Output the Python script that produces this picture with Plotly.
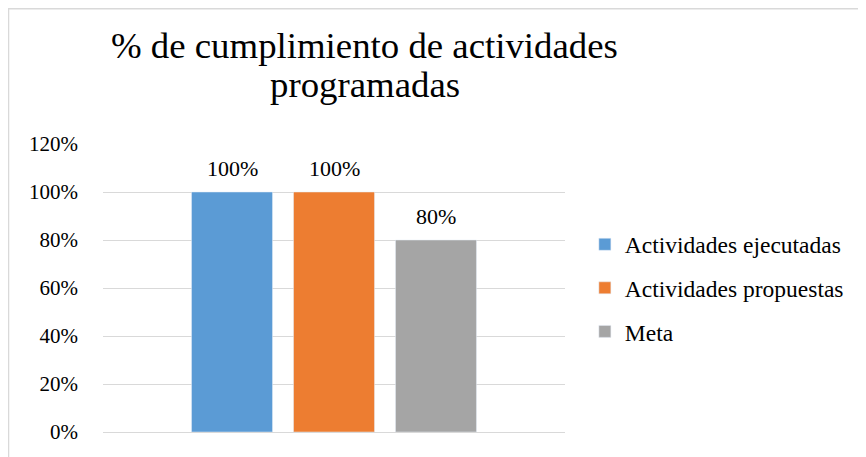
import plotly.graph_objects as go

# Data
series_names = ["Actividades ejecutadas", "Actividades propuestas", "Meta"]
series_values = [1.00, 1.00, 0.80]
series_colors = ["#5B9BD5", "#ED7D31", "#A5A5A5"]
title_lines = ["% de cumplimiento de actividades", "programadas"]
tick_vals = [0, 0.2, 0.4, 0.6, 0.8, 1.0, 1.2]

FONT = "Liberation Serif, Times New Roman, serif"

fig = go.Figure()
for i, (name, val, col) in enumerate(zip(series_names, series_values, series_colors)):
    fig.add_trace(go.Bar(
        x=[name], y=[val], name=name, marker_color=col, width=0.794,
        legendgroup=f"g{i}", hoverinfo="name+y",
    ))
    fig.add_annotation(x=name, y=val, xref="x", yref="y",
                       text=f"{val:.0%}", showarrow=False,
                       xanchor="center", yanchor="bottom", yshift=9,
                       font=dict(family=FONT, size=22, color="#000000"))

# Title, two lines
fig.add_annotation(text=title_lines[0], xref="paper", yref="paper",
                   x=0.567, y=1.3403, xanchor="center", yanchor="middle",
                   showarrow=False, font=dict(family=FONT, size=36.8, color="#000000"))
fig.add_annotation(text=title_lines[1], xref="paper", yref="paper",
                   x=0.567, y=1.2070, xanchor="center", yanchor="middle",
                   showarrow=False, font=dict(family=FONT, size=36.8, color="#000000"))

# Chart border
fig.add_shape(type="rect", xref="paper", yref="paper",
              x0=-0.2045, x1=1.75, y0=-0.3, y1=1.4695,
              line=dict(color="#d9d9d9", width=1.5), fillcolor="rgba(0,0,0,0)", layer="below")

fig.update_layout(
    width=858, height=449, autosize=False,
    margin=dict(l=95, r=301, t=136, b=25),
    paper_bgcolor="white", plot_bgcolor="white",
    barmode="overlay",
    font=dict(family=FONT, size=22, color="#000000"),
    showlegend=True,
    legend=dict(x=1.043, y=0.5, xanchor="left", yanchor="middle",
                font=dict(family=FONT, size=23.5, color="#000000"),
                traceorder="grouped", tracegroupgap=10, itemwidth=30,
                bgcolor="rgba(0,0,0,0)"),
    xaxis=dict(showticklabels=False, showgrid=False, showline=True,
               linecolor="#d9d9d9", linewidth=1, ticks="",
               range=[-1.265, 3.265], categoryorder="array",
               categoryarray=series_names),
    yaxis=dict(range=[0, 1.2], tickvals=tick_vals, tickformat=".0%",
               showgrid=True, gridcolor="#d9d9d9", gridwidth=1,
               zeroline=False, showline=False, ticks="",
               ticklabelstandoff=24,
               tickfont=dict(family=FONT, size=21, color="#000000")),
)

fig.write_html("out.html")
